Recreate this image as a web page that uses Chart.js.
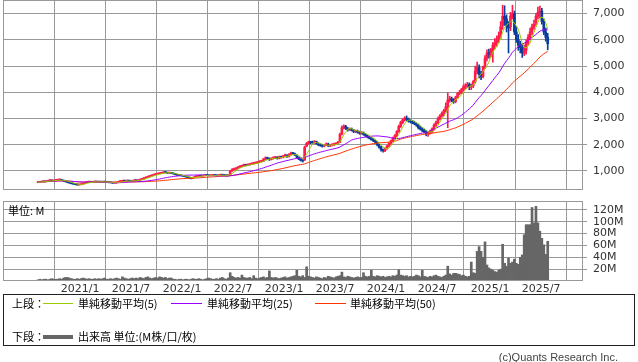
<!DOCTYPE html>
<html>
<head>
<meta charset="utf-8">
<script src="https://cdn.jsdelivr.net/npm/chart.js@4.4.1/dist/chart.umd.min.js"></script>
<style>
  body { margin: 0; background: #fff; }
  #wrap { position: relative; width: 638px; height: 362px; overflow: hidden; font-family: "Noto Sans CJK JP", sans-serif; color: #000; }
  .abs { position: absolute; }
  .txt { position: absolute; font-size: 11px; line-height: 14px; white-space: nowrap; }
  .ln { position: absolute; height: 1px; }
</style>
</head>
<body>
<div id="wrap">
  <canvas id="priceChart" class="abs" width="638" height="191" style="left:0;top:0"></canvas>
  <canvas id="volumeChart" class="abs" width="638" height="96" style="left:0;top:201px"></canvas>
  <div class="txt" style="left:8px;top:203px">単位: M</div>

  <div class="abs" style="left:3px;top:294px;width:632px;height:52px;border:1px solid #222;box-sizing:border-box"></div>
  <div class="txt" style="left:12px;top:296px">上段：</div>
  <div class="ln" style="left:43px;top:303px;width:30px;background:#99cc00"></div>
  <div class="txt" style="left:78px;top:296px">単純移動平均(5)</div>
  <div class="ln" style="left:171px;top:303px;width:31px;background:#9900ff"></div>
  <div class="txt" style="left:207px;top:296px">単純移動平均(25)</div>
  <div class="ln" style="left:315px;top:303px;width:31px;background:#ff3300"></div>
  <div class="txt" style="left:350px;top:296px">単純移動平均(50)</div>
  <div class="txt" style="left:12px;top:329px">下段：</div>
  <div class="ln" style="left:43px;top:335px;width:30px;height:4px;background:#666"></div>
  <div class="txt" style="left:78px;top:329px">出来高 単位:(M株/口/枚)</div>

  <div class="txt" style="right:20px;top:350px;font-family:'Liberation Sans',sans-serif;color:#444">(c)Quants Research Inc.</div>
</div>
<script>
// weekly bars, index 0 = first week shown (Aug 2020)
const tickPos = [21.4, 47.4, 73.5, 99.5, 125.5, 151.5, 177.5, 203.6, 230.6, 256.6];
const tickLabels = ['2021/1', '2021/7', '2022/1', '2022/7', '2023/1', '2023/7', '2024/1', '2024/7', '2025/1', '2025/7'];
const priceTicks = [1000, 2000, 3000, 4000, 5000, 6000, 7000];
const volumeTicks = [20, 40, 60, 80, 100, 120];

const openPrice = [
  560, 570, 585, 600, 590, 610, 630, 640, 625, 635,
  650, 660, 670, 640, 615, 590, 560, 540, 520, 500,
  490, 470, 480, 500, 530, 560, 575, 580, 570, 585,
  590, 580, 585, 575, 590, 580, 570, 560, 555, 540,
  545, 560, 600, 610, 620, 615, 630, 620, 610, 625,
  640, 630, 650, 680, 700, 730, 760, 790, 810, 840,
  860, 880, 900, 910, 930, 950, 940, 920, 930, 910,
  890, 860, 840, 830, 820, 800, 780, 760, 730, 720,
  760, 790, 800, 820, 810, 820, 840, 830, 820, 830,
  840, 830, 820, 840, 850, 840, 830, 820, 850, 1000,
  1050, 1080, 1100, 1150, 1180, 1200, 1230, 1220, 1240, 1260,
  1280, 1300, 1310, 1340, 1360, 1380, 1450, 1500, 1470, 1440,
  1480, 1500, 1520, 1480, 1540, 1520, 1570, 1600, 1560, 1620,
  1680, 1660, 1600, 1520, 1450, 1400, 1420, 1950, 2050, 2100,
  2100, 2080, 2120, 2050, 2000, 1980, 1950, 1990, 2030, 1960,
  1990, 2000, 2020, 2050, 2100, 2400, 2650, 2700, 2620, 2580,
  2600, 2550, 2500, 2520, 2480, 2440, 2450, 2400, 2350, 2300,
  2250, 2200, 2150, 2100, 2000, 1900, 1800, 1780, 1850, 1950,
  2050, 2150, 2250, 2350, 2500, 2700, 2850, 2950, 3000, 2980,
  2900, 2880, 2850, 2800, 2750, 2650, 2600, 2550, 2500, 2420,
  2450, 2500, 2600, 2750, 2850, 3000, 3100, 3200, 3300, 3450,
  3700, 3750, 3700, 3650, 3800, 3950, 4000, 4100, 4200, 4250,
  4300, 4200, 4250, 4400, 4800, 4950, 4700, 4600, 4950, 5300,
  5500, 5450, 5600, 5800, 5900, 6000, 6150, 6550, 6900, 6800,
  6500, 6500, 6900, 7000, 6300, 6000, 5800, 5700, 5500, 5600,
  5900, 6100, 6300, 6500, 6650, 6900, 7050, 7100, 6700, 6300,
  6100
];
const highPrice = [
  585, 595, 610, 610, 620, 640, 660, 650, 645, 665,
  675, 690, 680, 650, 625, 600, 570, 550, 530, 510,
  500, 495, 510, 540, 570, 590, 595, 590, 600, 605,
  600, 595, 595, 600, 600, 590, 580, 570, 565, 555,
  570, 610, 625, 635, 630, 645, 640, 630, 635, 655,
  650, 660, 690, 715, 745, 775, 805, 825, 855, 880,
  895, 915, 925, 950, 975, 965, 950, 945, 940, 920,
  900, 870, 855, 845, 830, 815, 795, 770, 745, 770,
  800, 815, 835, 830, 835, 855, 850, 840, 845, 855,
  855, 845, 850, 865, 860, 850, 840, 855, 1020, 1090,
  1110, 1130, 1170, 1210, 1230, 1260, 1250, 1270, 1290, 1310,
  1330, 1340, 1370, 1390, 1410, 1480, 1540, 1530, 1500, 1510,
  1540, 1560, 1550, 1570, 1570, 1600, 1640, 1630, 1660, 1720,
  1710, 1680, 1620, 1540, 1470, 1430, 1950, 2090, 2140, 2130,
  2140, 2160, 2140, 2080, 2040, 2010, 2020, 2070, 2060, 2020,
  2040, 2060, 2080, 2130, 2450, 2720, 2760, 2740, 2660, 2640,
  2640, 2590, 2560, 2560, 2520, 2500, 2490, 2430, 2380, 2330,
  2280, 2240, 2180, 2130, 2030, 1940, 1840, 1880, 1980, 2080,
  2180, 2290, 2390, 2540, 2750, 2900, 3000, 3070, 3100, 3020,
  2960, 2930, 2900, 2840, 2790, 2700, 2650, 2600, 2550, 2500,
  2560, 2650, 2800, 2900, 3060, 3150, 3260, 3350, 3600, 3980,
  3850, 3820, 3760, 3850, 4000, 4080, 4150, 4280, 4330, 4380,
  4360, 4320, 4450, 5000, 5150, 5050, 4800, 5000, 5400, 5620,
  5650, 5680, 5900, 6050, 6150, 6300, 6700, 7320, 7300, 6950,
  6700, 7050, 7320, 7100, 6500, 6200, 5950, 5850, 5800, 6000,
  6200, 6450, 6600, 6750, 7000, 7250, 7290, 7200, 6800, 6450,
  6250
];
const lowPrice = [
  550, 560, 575, 580, 585, 600, 620, 615, 615, 625,
  640, 650, 630, 605, 580, 550, 530, 505, 490, 470,
  455, 460, 470, 495, 525, 550, 565, 560, 565, 575,
  570, 570, 565, 565, 570, 560, 550, 545, 530, 530,
  535, 555, 590, 600, 600, 605, 610, 600, 600, 615,
  620, 620, 645, 670, 690, 720, 750, 780, 800, 830,
  850, 870, 885, 900, 920, 925, 905, 905, 900, 880,
  850, 830, 820, 805, 790, 770, 745, 715, 695, 715,
  750, 780, 790, 800, 800, 810, 820, 810, 810, 820,
  820, 810, 810, 830, 830, 820, 805, 810, 840, 980,
  1030, 1060, 1080, 1130, 1160, 1180, 1190, 1200, 1220, 1240,
  1260, 1280, 1290, 1320, 1340, 1360, 1420, 1440, 1400, 1420,
  1450, 1470, 1450, 1460, 1490, 1500, 1540, 1520, 1530, 1600,
  1630, 1580, 1500, 1430, 1380, 1340, 1400, 1920, 2020, 2040,
  2040, 2050, 2020, 1960, 1940, 1910, 1920, 1970, 1930, 1930,
  1960, 1970, 2000, 2030, 2080, 2380, 2600, 2580, 2520, 2540,
  2520, 2460, 2460, 2440, 2400, 2400, 2360, 2310, 2260, 2220,
  2170, 2120, 2060, 1960, 1870, 1760, 1720, 1740, 1820, 1920,
  2010, 2110, 2210, 2310, 2470, 2660, 2800, 2900, 2920, 2860,
  2830, 2800, 2760, 2700, 2600, 2560, 2500, 2450, 2340, 2320,
  2400, 2460, 2560, 2700, 2800, 2950, 3050, 3100, 3250, 2650,
  3620, 3640, 3580, 3600, 3760, 3900, 3950, 4050, 4120, 4180,
  4100, 4100, 4180, 4350, 4700, 4550, 4480, 4550, 4900, 5200,
  5300, 5350, 5150, 5650, 5750, 5900, 6050, 6400, 6550, 6300,
  5500, 6350, 6800, 6200, 5900, 5600, 5500, 5330, 5400, 5450,
  5800, 6000, 6200, 6400, 6550, 6800, 6850, 6600, 6200, 5950,
  5620
];
const closePrice = [
  570, 585, 600, 590, 610, 630, 640, 625, 635, 650,
  660, 670, 640, 615, 590, 560, 540, 520, 500, 490,
  470, 480, 500, 530, 560, 575, 580, 570, 585, 590,
  580, 585, 575, 590, 580, 570, 560, 555, 540, 545,
  560, 600, 610, 620, 615, 630, 620, 610, 625, 640,
  630, 650, 680, 700, 730, 760, 790, 810, 840, 860,
  880, 900, 910, 930, 950, 940, 920, 930, 910, 890,
  860, 840, 830, 820, 800, 780, 760, 730, 720, 760,
  790, 800, 820, 810, 820, 840, 830, 820, 830, 840,
  830, 820, 840, 850, 840, 830, 820, 840, 1000, 1050,
  1080, 1100, 1150, 1180, 1200, 1230, 1220, 1240, 1260, 1280,
  1300, 1310, 1340, 1360, 1380, 1450, 1500, 1470, 1440, 1480,
  1500, 1520, 1480, 1540, 1520, 1570, 1600, 1560, 1620, 1680,
  1660, 1600, 1520, 1450, 1400, 1380, 1900, 2050, 2100, 2080,
  2080, 2120, 2050, 2000, 1980, 1950, 1990, 2030, 1960, 1990,
  2000, 2020, 2050, 2100, 2400, 2650, 2700, 2620, 2580, 2600,
  2550, 2500, 2520, 2480, 2450, 2460, 2400, 2350, 2300, 2250,
  2200, 2150, 2100, 2000, 1900, 1800, 1780, 1850, 1950, 2050,
  2150, 2250, 2350, 2500, 2700, 2850, 2950, 3000, 2980, 2900,
  2880, 2850, 2800, 2750, 2650, 2600, 2550, 2500, 2420, 2450,
  2500, 2600, 2750, 2850, 3000, 3100, 3200, 3300, 3450, 3700,
  3750, 3700, 3650, 3800, 3950, 4000, 4100, 4200, 4250, 4300,
  4200, 4250, 4400, 4800, 4950, 4700, 4600, 4950, 5300, 5500,
  5450, 5600, 5800, 5900, 6000, 6150, 6500, 6900, 6800, 6500,
  6450, 6900, 7000, 6300, 6000, 5800, 5700, 5500, 5600, 5900,
  6100, 6300, 6500, 6600, 6900, 7050, 7100, 6700, 6300, 6100,
  5850
];
// volume in millions
const volume = [
  2, 3, 2, 3, 3, 2, 3, 4, 3, 3,
  3, 4, 3, 5, 6, 6, 5, 4, 3, 3,
  4, 3, 4, 5, 4, 3, 4, 3, 3, 4,
  3, 4, 3, 4, 5, 3, 3, 4, 3, 4,
  5, 4, 3, 7, 5, 4, 3, 4, 5, 4,
  5, 4, 6, 5, 4, 6, 7, 5, 4, 5,
  6, 5, 7, 6, 5, 6, 4, 5, 5, 3,
  3, 2, 3, 3, 2, 3, 3, 2, 3, 4,
  3, 3, 4, 3, 2, 3, 4, 5, 4, 3,
  3, 4, 3, 5, 6, 4, 3, 5, 14, 8,
  6, 5, 6, 5, 10, 6, 5, 5, 6, 4,
  9, 5, 4, 5, 6, 7, 5, 6, 17, 6,
  5, 6, 5, 4, 5, 6, 7, 5, 6, 7,
  8, 9, 18, 8, 7, 9, 6, 24, 8, 7,
  6, 5, 7, 6, 5, 4, 6, 5, 8, 7,
  6, 5, 7, 8, 9, 15, 7, 6, 8, 7,
  6, 5, 6, 7, 6, 6, 14, 8, 7, 8,
  18, 8, 7, 9, 8, 7, 8, 6, 7, 8,
  7, 9, 8, 10, 19, 10, 9, 8, 9, 7,
  8, 7, 8, 10, 9, 7, 18, 8, 7, 6,
  8, 7, 9, 10, 8, 7, 6, 8, 10, 25,
  12, 10, 13, 13, 12, 11, 9, 10, 8, 7,
  8, 32, 14, 13, 50, 58, 50, 40, 66, 27,
  22, 20, 18, 16, 15, 18, 20, 62, 30, 25,
  39, 30, 32, 37, 30, 28, 40, 44, 78, 95,
  95, 95, 124, 98, 126, 98, 84, 72, 61, 45,
  67
];

const upColor = '#ff1a4b';
const downColor = '#0a3c9c';
const gridColor = '#999';
const tickFont = { family: 'DejaVu Sans', size: 11 };

function sma(values, n) {
  return values.map((v, i) => {
    const win = values.slice(Math.max(0, i - n + 1), i + 1);
    return win.reduce((a, b) => a + b, 0) / win.length;
  });
}

const candleColors = closePrice.map((c, i) => c >= openPrice[i] ? upColor : downColor);

const frame = {
  id: 'frame',
  afterDraw(chart) {
    const a = chart.chartArea, ctx = chart.ctx;
    ctx.save();
    ctx.strokeStyle = gridColor;
    ctx.lineWidth = 1;
    ctx.strokeRect(a.left + 0.5, a.top + 0.5, a.right - a.left - 1, a.bottom - a.top - 1);
    ctx.restore();
  }
};

function xAxis(showLabels) {
  return {
    type: 'linear', min: -17.9, max: 278, offset: false,
    afterBuildTicks: s => { s.ticks = tickPos.map(v => ({ value: v })); },
    afterFit: s => { s.paddingLeft = 0; s.paddingRight = 0; s.height = showLabels ? 16 : 1; },
    grid: { color: gridColor, drawTicks: false },
    border: { display: false },
    ticks: {
      display: showLabels, autoSkip: false, maxRotation: 0, padding: 2,
      color: '#333', font: tickFont,
      callback: v => tickLabels[tickPos.indexOf(v)]
    }
  };
}

function yAxis(min, max, ticks, fmt) {
  return {
    position: 'right', min: min, max: max,
    afterBuildTicks: s => { s.ticks = ticks.map(v => ({ value: v })); },
    afterFit: s => { s.width = 55; s.paddingTop = 0; s.paddingBottom = 0; },
    grid: { color: gridColor, tickLength: 4 },
    border: { display: false },
    ticks: { autoSkip: false, padding: 6, color: '#333', font: tickFont, callback: fmt }
  };
}

const common = {
  responsive: false,
  animation: false,
  devicePixelRatio: 1,
  layout: { padding: { left: 3, top: 0, right: 0, bottom: 0 } },
  plugins: { legend: { display: false }, tooltip: { enabled: false } }
};

const idx = closePrice.map((_, i) => i);
const ma5 = sma(closePrice, 5);
const ma25 = sma(closePrice, 25);
const ma50 = sma(closePrice, 50);

new Chart(document.getElementById('priceChart'), {
  type: 'bar',
  data: {
    datasets: [
      { type: 'line', data: idx.map(i => ({ x: i, y: ma5[i] })), borderColor: '#99cc00', borderWidth: 1, pointRadius: 0 },
      { type: 'line', data: idx.map(i => ({ x: i, y: ma25[i] })), borderColor: '#9900ff', borderWidth: 1, pointRadius: 0 },
      { type: 'line', data: idx.map(i => ({ x: i, y: ma50[i] })), borderColor: '#ff3300', borderWidth: 1, pointRadius: 0 },
      { data: idx.map(i => ({ x: i, y: [openPrice[i], closePrice[i]] })), backgroundColor: candleColors, barThickness: 2, minBarLength: 1, grouped: false },
      { data: idx.map(i => ({ x: i, y: [lowPrice[i], highPrice[i]] })), backgroundColor: candleColors, barThickness: 1, grouped: false }
    ]
  },
  options: {
    ...common,
    scales: {
      x: xAxis(false),
      y: yAxis(275, 7520, priceTicks, v => v.toLocaleString('en-US'))
    }
  },
  plugins: [frame]
});

new Chart(document.getElementById('volumeChart'), {
  type: 'bar',
  data: {
    datasets: [
      { data: idx.map(i => ({ x: i, y: volume[i] })), backgroundColor: '#666', barThickness: 2, grouped: false }
    ]
  },
  options: {
    ...common,
    scales: {
      x: xAxis(true),
      y: yAxis(0, 135, volumeTicks, v => v + 'M')
    }
  },
  plugins: [frame]
});
</script>
</body>
</html>
